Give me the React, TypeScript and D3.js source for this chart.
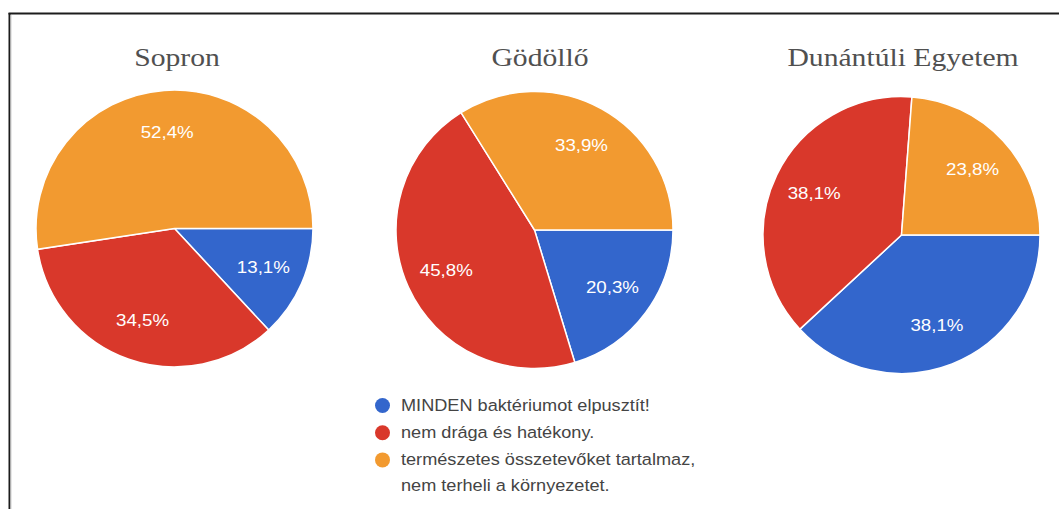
import React from "react";
import * as d3 from "d3";

const categories = [
  "MINDEN baktériumot elpusztít!",
  "nem drága és hatékony.",
  "természetes összetevőket tartalmaz, nem terheli a környezetet.",
];
const legendLines = [
  ["MINDEN baktériumot elpusztít!"],
  ["nem drága és hatékony."],
  ["természetes összetevőket tartalmaz,", "nem terheli a környezetet."],
];
const colors = ["#3366cc", "#d9382b", "#f29a30"];

const titles = ["Sopron", "Gödöllő", "Dunántúli Egyetem"];
const sopronValues = [13.1, 34.5, 52.4];
const godolloValues = [20.3, 45.8, 33.9];
const dunantuliValues = [38.1, 38.1, 23.8];
const seriesValues = [sopronValues, godolloValues, dunantuliValues];

const W = 1059;
const H = 509;
const R = 138.5;
const centers: [number, number][] = [
  [174.5, 228.5],
  [534.5, 230],
  [901.5, 235],
];
const titleX = [177, 540, 903];

const fmt = (v: number) => v.toFixed(1).replace(".", ",") + "%";

function Pie({ values, cx, cy }: { values: number[]; cx: number; cy: number }) {
  const pie = d3
    .pie<number>()
    .sort(null)
    .value((d) => d)
    .startAngle(Math.PI / 2)
    .endAngle(Math.PI / 2 + 2 * Math.PI);
  const arcs = pie(values);
  const arc = d3.arc<d3.PieArcDatum<number>>().innerRadius(0).outerRadius(R);
  const labelArc = d3
    .arc<d3.PieArcDatum<number>>()
    .innerRadius(R * 0.7)
    .outerRadius(R * 0.7);
  return (
    <g transform={`translate(${cx},${cy})`}>
      {arcs.map((a, i) => (
        <path key={i} d={arc(a) || ""} fill={colors[i]} stroke="#ffffff" strokeWidth={1.5} />
      ))}
      {arcs.map((a, i) => {
        const [x, y] = labelArc.centroid(a);
        return (
          <text
            key={"t" + i}
            transform={`translate(${x},${y}) scale(1.1,1)`}
            textAnchor="middle"
            dominantBaseline="central"
            fill="#ffffff"
            fontFamily="'Liberation Sans', Arial, sans-serif"
            fontSize={17}
          >
            {fmt(values[i])}
          </text>
        );
      })}
    </g>
  );
}

export default function App() {
  const legendX = 382.5;
  const legendY0 = 405.5;
  const rowGap = 27.2;
  const lineGap = 26.5;
  let yCursor = legendY0;
  const legendRows = legendLines.map((lines, i) => {
    const y = yCursor;
    yCursor += rowGap + (lines.length - 1) * lineGap;
    return { lines, y, i };
  });
  return (
    <div style={{ position: "absolute", left: 0, top: 0 }}>
      <svg width={W} height={H} style={{ display: "block", background: "#ffffff" }}>
        <rect x={0} y={0} width={W} height={H} fill="#ffffff" />
        <line x1={9.5} y1={13} x2={9.5} y2={H} stroke="#1c1c1c" strokeWidth={2} />
        <line x1={8.5} y1={13.5} x2={W} y2={13.5} stroke="#1c1c1c" strokeWidth={2} />
        <line x1={11} y1={15} x2={11} y2={H} stroke="#cfcfcf" strokeWidth={1} />
        {titles.map((t, i) => (
          <text
            key={t}
            transform={`translate(${titleX[i]},66) scale(1.14,1)`}
            textAnchor="middle"
            fill="#505050"
            fontFamily="'Liberation Serif', 'Times New Roman', serif"
            fontSize={26}
          >
            {t}
          </text>
        ))}
        {seriesValues.map((vals, i) => (
          <Pie key={i} values={vals} cx={centers[i][0]} cy={centers[i][1]} />
        ))}
        <g>
          {legendRows.map(({ lines, y, i }) => (
            <g key={categories[i]}>
              <circle cx={legendX} cy={y} r={7.5} fill={colors[i]} />
              {lines.map((ln, j) => (
                <text
                  key={j}
                  transform={`translate(${legendX + 18.5},${y + 5 + j * lineGap}) scale(1.1,1)`}
                  fill="#444444"
                  fontFamily="'Liberation Sans', Arial, sans-serif"
                  fontSize={16.5}
                >
                  {ln}
                </text>
              ))}
            </g>
          ))}
        </g>
      </svg>
    </div>
  );
}
